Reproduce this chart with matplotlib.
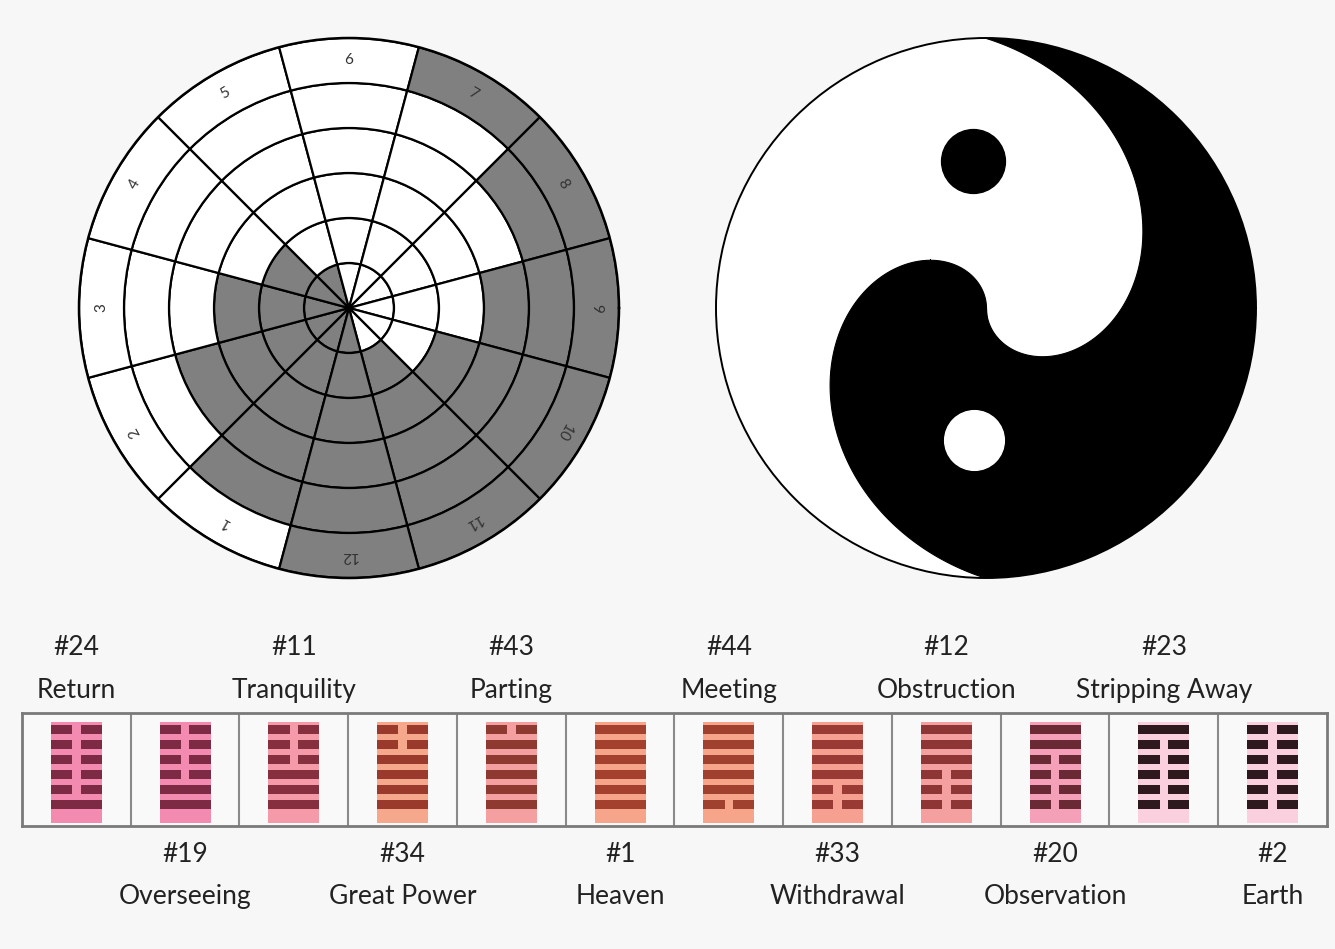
import numpy as np
import matplotlib.pyplot as plt

# The twelve "sovereign" hexagrams, in the order of the strip
NUMBERS = ["#24", "#19", "#11", "#34", "#43", "#1", "#44", "#33", "#12", "#20", "#23", "#2"]
NAMES = ["Return", "Overseeing", "Tranquility", "Great Power", "Parting", "Heaven",
         "Meeting", "Withdrawal", "Obstruction", "Observation", "Stripping Away", "Earth"]
# Lines from bottom to top: 1 = yang (solid), 0 = yin (broken)
HEX_LINES = [
    [1, 0, 0, 0, 0, 0],
    [1, 1, 0, 0, 0, 0],
    [1, 1, 1, 0, 0, 0],
    [1, 1, 1, 1, 0, 0],
    [1, 1, 1, 1, 1, 0],
    [1, 1, 1, 1, 1, 1],
    [0, 1, 1, 1, 1, 1],
    [0, 0, 1, 1, 1, 1],
    [0, 0, 0, 1, 1, 1],
    [0, 0, 0, 0, 1, 1],
    [0, 0, 0, 0, 0, 1],
    [0, 0, 0, 0, 0, 0],
]
SECTOR_LABELS = [str(k) for k in range(1, 13)]

# Colours (faded scan look of the hexagram strip)
BG = "#f7f7f7"
YIN_GRAY = "#808080"
BAR_COLORS = ["#7d2a45", "#7d2a45", "#86303f", "#9a3a2c", "#8f3a30", "#a3402e",
              "#a0402e", "#9a3a35", "#8e3535", "#6a2a35", "#2e1a1e", "#2e1a1e"]
BACK_COLORS = ["#f38bb0", "#f38bb0", "#f49aa8", "#f6a88c", "#f5a0a0", "#f6a58a",
               "#f6a58a", "#f5a090", "#f5a0a0", "#f4a0b8", "#fbd0de", "#fbd0de"]

FONT = "Lato"
FONT_SIZE_TEXT = 19
W, H = 1335, 949


def px_axes(cx, cy, r, **kw):
    """Axes of size 2r x 2r pixels centred at (cx, cy) in image pixels"""
    return fig.add_axes([(cx - r) / W, (H - cy - r) / H, 2 * r / W, 2 * r / H], **kw)


fig = plt.figure(figsize=(W / 100, H / 100), dpi=100, facecolor=BG)

# ---- Left: polar wheel, 12 sectors x 6 rings (outer ring = bottom line) ----
ax = px_axes(349, 308, 270, projection="polar")
ax.set_facecolor("white")
for k, lines in enumerate(HEX_LINES, start=1):
    theta = np.deg2rad(270 - 30 * k)
    for ring in range(1, 7):
        yang = lines[6 - ring]
        ax.bar(theta, 1, width=np.deg2rad(30), bottom=ring - 1,
               color="white" if yang else YIN_GRAY, edgecolor="black", linewidth=1.6)
    ax.text(theta, 5.5, SECTOR_LABELS[k - 1], rotation=(270 - 30 * k) - 90,
            ha="center", va="center", fontsize=11, color="#333333", family=FONT)
ax.set_ylim(0, 6)
ax.set_xticks([])
ax.set_yticks([])
ax.grid(False)
ax.spines["polar"].set_linewidth(1.8)

# ---- Right: yin-yang as the continuous version of the wheel ----
ax = px_axes(986, 308, 270, projection="polar")
ax.set_facecolor("white")
t1 = np.linspace(-np.pi / 2, np.pi / 2, 400)
ax.fill_between(t1, (t1 + np.pi / 2) / np.pi, 1, facecolor="black",
                edgecolor="black", linewidth=0.8)
t2 = np.linspace(np.pi / 2, 3 * np.pi / 2, 400)
ax.fill_between(t2, 0, (t2 - np.pi / 2) / np.pi, facecolor="black",
                edgecolor="black", linewidth=0.8)
ax.plot(np.deg2rad(95), 0.548, "o", color="black", markersize=46)
ax.plot(np.deg2rad(265), 0.49, "o", color="white", markersize=43)
ax.set_ylim(0, 1)
ax.set_xticks([])
ax.set_yticks([])
ax.grid(False)
ax.spines["polar"].set_linewidth(1.4)

# ---- Bottom: strip of hexagrams ----
ax = fig.add_axes([22 / W, (H - 826) / H, 1305 / W, 113 / H])
ax.set_facecolor("#f9f9f9")
ax.set_xlim(-0.5, 11.5)
ax.set_ylim(-1.4, 6.13)
bar_half = 0.235
gap_half = 0.04
for i, lines in enumerate(HEX_LINES):
    ax.add_patch(plt.Rectangle((i - bar_half, -1.2), 2 * bar_half, 6.7,
                               facecolor=BACK_COLORS[i], edgecolor="none"))
    for j, yang in enumerate(lines):
        if yang:
            segs = [(i - bar_half, 2 * bar_half)]
        else:
            segs = [(i - bar_half, bar_half - gap_half), (i + gap_half, bar_half - gap_half)]
        for x0, w in segs:
            ax.add_patch(plt.Rectangle((x0, j - 0.3), w, 0.6,
                                       facecolor=BAR_COLORS[i], edgecolor="none"))
    # labels alternate above and below the strip
    if i % 2 == 0:
        y_num, y_name = 10.47, 7.6
    else:
        y_num, y_name = -3.33, -6.13
    ax.text(i, y_num, NUMBERS[i], ha="center", va="center", fontsize=FONT_SIZE_TEXT,
            color="#222222", family=FONT, clip_on=False)
    ax.text(i, y_name, NAMES[i], ha="center", va="center", fontsize=FONT_SIZE_TEXT,
            color="#222222", family=FONT, clip_on=False)
for i in range(11):
    ax.axvline(i + 0.5, color="#8a8a8a", linewidth=1.5)
for spine in ax.spines.values():
    spine.set_color("#7a7a7a")
    spine.set_linewidth(2)
ax.set_xticks([])
ax.set_yticks([])

plt.savefig("out.png", dpi=100, facecolor=BG)
